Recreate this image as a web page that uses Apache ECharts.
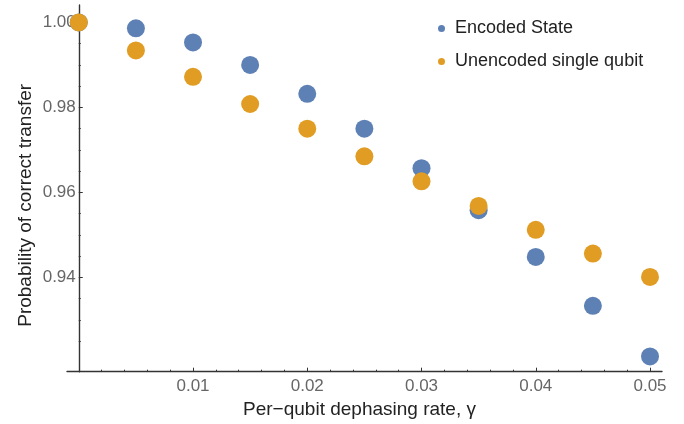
<!DOCTYPE html>
<html>
<head>
<meta charset="utf-8">
<script src="https://cdn.jsdelivr.net/npm/echarts@6/dist/echarts.min.js"></script>
<style>
  html, body { margin: 0; padding: 0; background: #fff; }
  #chart { width: 684px; height: 424px; }
</style>
</head>
<body>
<div id="chart"></div>
<script>
const gamma = [0, 0.005, 0.01, 0.015, 0.02, 0.025, 0.03, 0.035, 0.04, 0.045, 0.05]
const encoded = [1.0, 0.9986, 0.9953, 0.9900, 0.9832, 0.9750, 0.9657, 0.9558, 0.9448, 0.9333, 0.9214]
const unencoded = [1.0, 0.9934, 0.9872, 0.9808, 0.9750, 0.9685, 0.9626, 0.9568, 0.9512, 0.9456, 0.9401]

const xMajor = [0.01, 0.02, 0.03, 0.04, 0.05]
const yMajor = [0.94, 0.96, 0.98, 1.00]

// minor ticks: x every 0.002, y every 0.005
const xMinor = []
for (let i = 1; i <= 25; i++) {
    if (i % 5 !== 0) xMinor.push(i * 2 / 1000)
}
const yMinor = []
for (let i = 184; i <= 200; i++) {
    if (i % 4 !== 0) yMinor.push(i * 5 / 1000)
}

const font = '"Liberation Sans", Arial, sans-serif'
const axisColor = '#333'

const chart = echarts.init(document.getElementById('chart'))

const gridLeft = 67
const gridRight = 22
const xRange = {min: -0.00103, max: 0.05105}
const yRange = {min: 0.9178, max: 1.0041}
// pixel distance from grid left edge to x = 0 (second y axis can't use onZero)
const zeroShift = (0 - xRange.min) / (xRange.max - xRange.min) * (684 - gridLeft - gridRight)

const option = {
    animation: false,
    grid: {left: gridLeft, right: gridRight, top: 5, bottom: 52.3, containLabel: false, outerBoundsMode: 'none'},
    legend: {
        orient: 'vertical',
        left: 438,
        top: 19.5,
        padding: 0,
        itemGap: 15,
        itemWidth: 7,
        itemHeight: 7,
        icon: 'circle',
        textStyle: {fontFamily: font, fontSize: 18, color: '#222', padding: [0, 0, 0, 5]},
        data: ['Encoded State', 'Unencoded single qubit']
    },
    xAxis: [
        {
            type: 'value',
            ...xRange,
            position: 'bottom',
            axisLine: {onZero: false, lineStyle: {color: axisColor, width: 1.4}},
            axisTick: {show: true, inside: true, length: 2, customValues: xMinor,
                lineStyle: {color: axisColor, width: 1}},
            axisLabel: {show: false},
            splitLine: {show: false}
        },
        {
            type: 'value',
            ...xRange,
            position: 'bottom',
            axisLine: {show: false, onZero: false},
            axisTick: {show: true, inside: true, length: 4, customValues: xMajor,
                lineStyle: {color: axisColor, width: 1}},
            axisLabel: {customValues: xMajor, fontFamily: font, fontSize: 17, color: '#666', margin: 6,
                formatter: v => v.toFixed(2)},
            splitLine: {show: false},
            name: 'Per\u2212qubit dephasing rate, \u03b3',
            nameLocation: 'middle',
            nameGap: 29,
            nameMoveOverlap: false,
            nameTextStyle: {fontFamily: font, fontSize: 19, color: '#222', padding: [0, 10, 0, 0]}
        }
    ],
    yAxis: [
        {
            type: 'value',
            ...yRange,
            position: 'left',
            axisLine: {show: true, onZero: true, onZeroAxisIndex: 0, lineStyle: {color: axisColor, width: 1.4}},
            axisTick: {show: true, inside: true, length: 2, customValues: yMinor,
                lineStyle: {color: axisColor, width: 1}},
            axisLabel: {show: false},
            splitLine: {show: false}
        },
        {
            type: 'value',
            ...yRange,
            position: 'left',
            offset: -zeroShift,
            axisLine: {show: false, onZero: false},
            axisTick: {show: true, inside: true, length: 4, customValues: yMajor,
                lineStyle: {color: axisColor, width: 1}},
            axisLabel: {customValues: yMajor, fontFamily: font, fontSize: 17, color: '#666', margin: 3,
                formatter: v => v.toFixed(2)},
            splitLine: {show: false},
            name: 'Probability of correct transfer',
            nameLocation: 'middle',
            nameGap: 44,
            nameMoveOverlap: false,
            nameTextStyle: {fontFamily: font, fontSize: 19, color: '#222', padding: [0, 34, 0, 0]}
        }
    ],
    series: [
        {
            name: 'Encoded State',
            type: 'scatter',
            symbolSize: 18,
            itemStyle: {color: '#5e81b5', opacity: 1},
            data: gamma.map((g, i) => [g, encoded[i]])
        },
        {
            name: 'Unencoded single qubit',
            type: 'scatter',
            symbolSize: 18,
            itemStyle: {color: '#e19c24', opacity: 1},
            data: gamma.map((g, i) => [g, unencoded[i]])
        }
    ]
}

chart.setOption(option)
</script>
</body>
</html>
